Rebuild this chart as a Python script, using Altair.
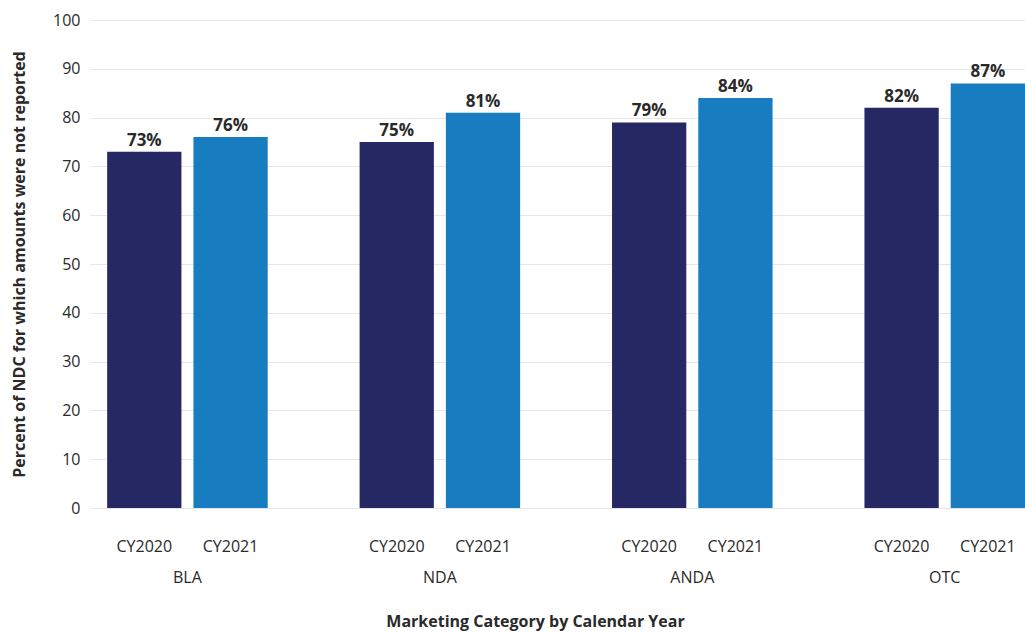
import altair as alt
import pandas as pd

# Share of NDCs with unreported amounts, by marketing category and calendar year
categories = ["BLA", "NDA", "ANDA", "OTC"]
years = ["CY2020", "CY2021"]
cy2020 = [73, 75, 79, 82]
cy2021 = [76, 81, 84, 87]

rows = []
for cat, a, b in zip(categories, cy2020, cy2021):
    rows.append({"category": cat, "year": years[0], "value": a})
    rows.append({"category": cat, "year": years[1], "value": b})
df = pd.DataFrame(rows)
df["label"] = df["value"].astype(str) + "%"

FONT = "Open Sans"
TEXT = "#2a2a2a"
W, H = 935, 488

x_enc = alt.X(
    "category:N",
    sort=categories,
    scale=alt.Scale(paddingInner=0.364, paddingOuter=0.034, align=1),
    axis=alt.Axis(
        title="Marketing Category by Calendar Year",
        labelAngle=0,
        labelPadding=61,
        tickSize=0,
        ticks=False,
        domain=False,
        labelFontSize=16,
        labelColor=TEXT,
        labelFont=FONT,
        titleFont=FONT,
        titleFontSize=16,
        titleFontWeight="bold",
        titleColor=TEXT,
        titlePadding=28,
        titleX=445,
        titleAlign="center",
    ),
)
xo_enc = alt.XOffset(
    "year:N",
    sort=years,
    scale=alt.Scale(paddingInner=0.139, paddingOuter=0),
)

bars = alt.Chart(df).mark_bar().encode(
    x=x_enc,
    xOffset=xo_enc,
    y=alt.Y(
        "value:Q",
        scale=alt.Scale(domain=[0, 100], nice=False),
        axis=alt.Axis(
            title="Percent of NDC for which amounts were not reported",
            values=list(range(0, 101, 10)),
            tickSize=0,
            ticks=False,
            domain=False,
            labelPadding=10,
            labelFontSize=16,
            labelColor=TEXT,
            labelFont=FONT,
            gridColor="#e6e6e6",
            titleFont=FONT,
            titleFontSize=16,
            titleFontWeight="bold",
            titleColor=TEXT,
            titlePadding=25,
        ),
    ),
    color=alt.Color(
        "year:N",
        sort=years,
        scale=alt.Scale(domain=years, range=["#262864", "#187dc0"]),
        legend=None,
    ),
)

values = alt.Chart(df).mark_text(
    baseline="bottom", dy=-2, fontSize=17, fontWeight="bold", font=FONT, color=TEXT
).encode(
    x=alt.X("category:N", sort=categories),
    xOffset=alt.XOffset("year:N", sort=years),
    y="value:Q",
    text="label:N",
)

year_labels = alt.Chart(df).mark_text(
    baseline="middle", fontSize=16, font=FONT, color=TEXT
).encode(
    x=alt.X("category:N", sort=categories),
    xOffset=alt.XOffset("year:N", sort=years),
    y=alt.value(H + 39),
    text="year:N",
)

chart = (
    alt.layer(bars, values, year_labels)
    .properties(
        width=W,
        height=H,
        autosize=alt.AutoSizeParams(type="none"),
        padding={"left": 90, "top": 20, "right": 0, "bottom": 124},
        background="white",
    )
    .configure_view(stroke=None)
)

chart.save("out.html", embed_options={"renderer": "svg", "actions": False})
